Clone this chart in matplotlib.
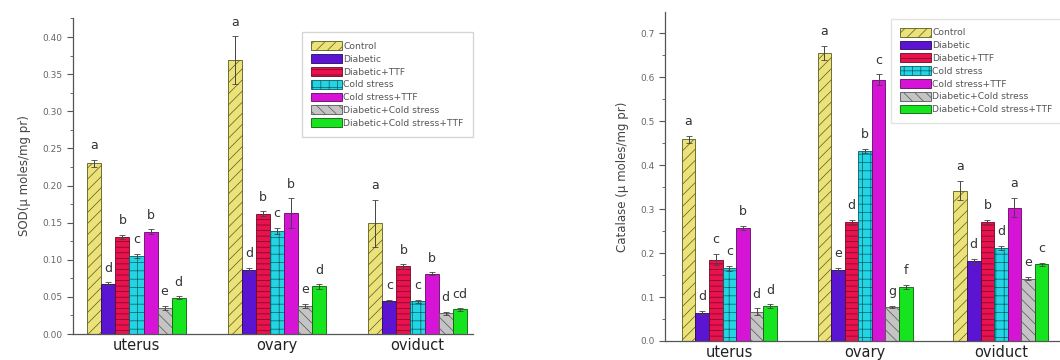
import numpy as np
import matplotlib
matplotlib.use("Agg")
from matplotlib import pyplot as plt
from matplotlib.patches import Patch
from matplotlib.ticker import MultipleLocator

# Dados
tecidos = ["uterus", "ovary", "oviduct"]
grupos = ["Control", "Diabetic", "Diabetic+TTF", "Cold stress",
          "Cold stress+TTF", "Diabetic+Cold stress", "Diabetic+Cold stress+TTF"]

sod_uterus = [0.230, 0.068, 0.131, 0.105, 0.138, 0.035, 0.049]
sod_ovary = [0.369, 0.086, 0.162, 0.139, 0.163, 0.038, 0.064]
sod_oviduct = [0.149, 0.044, 0.091, 0.044, 0.081, 0.028, 0.033]
sod_err_uterus = [0.005, 0.002, 0.003, 0.003, 0.003, 0.003, 0.002]
sod_err_ovary = [0.032, 0.003, 0.003, 0.004, 0.020, 0.003, 0.003]
sod_err_oviduct = [0.032, 0.002, 0.003, 0.002, 0.002, 0.002, 0.002]
sod_letras = [["a", "d", "b", "c", "b", "e", "d"],
              ["a", "d", "b", "c", "b", "e", "d"],
              ["a", "c", "b", "c", "b", "d", "cd"]]

cat_uterus = [0.459, 0.064, 0.185, 0.165, 0.257, 0.066, 0.079]
cat_ovary = [0.655, 0.161, 0.271, 0.432, 0.594, 0.077, 0.123]
cat_oviduct = [0.342, 0.181, 0.271, 0.212, 0.303, 0.142, 0.174]
cat_err_uterus = [0.008, 0.004, 0.012, 0.005, 0.005, 0.008, 0.004]
cat_err_ovary = [0.015, 0.005, 0.005, 0.005, 0.012, 0.003, 0.005]
cat_err_oviduct = [0.022, 0.005, 0.005, 0.005, 0.022, 0.003, 0.004]
cat_letras = [["a", "d", "c", "c", "b", "d", "d"],
              ["a", "e", "d", "b", "c", "g", "f"],
              ["a", "d", "b", "d", "a", "e", "c"]]

# Estilo das barras
cores = ["#ece27a", "#5a14d2", "#e8124e", "#22d4e4", "#d614d6", "#c4c4c4", "#16e41e"]
bordas = ["#5a5a20", "#2a0a60", "#6a0a24", "#0a5a60", "#600a60", "#555555", "#0a600a"]
hachuras = ["///", "", "---", "++", "", "\\\\\\", ""]

plt.rcParams["hatch.linewidth"] = 0.5
plt.rcParams["font.family"] = "DejaVu Sans"

fig = plt.figure(figsize=(10.6, 3.6), dpi=100)
W, H = 1060, 360
ax1 = fig.add_axes([73 / W, (H - 334) / H, 400 / W, 316 / H])
ax2 = fig.add_axes([665 / W, (H - 341) / H, 397 / W, 329 / H])

largura = 0.1
x = np.arange(len(tecidos))


def desenha(ax, valores, erros, letras, offset):
    for j in range(len(grupos)):
        pos = x + (j - 3) * largura
        alturas = [valores[k][j] for k in range(3)]
        errs = [erros[k][j] for k in range(3)]
        ax.bar(pos, alturas, largura, color=cores[j], edgecolor=bordas[j],
               hatch=hachuras[j], linewidth=0.6)
        ax.errorbar(pos, alturas, yerr=errs, fmt="none", ecolor="#444444",
                    elinewidth=0.7, capsize=2, capthick=0.6)
        for k in range(3):
            ax.text(pos[k], alturas[k] + errs[k] + offset, letras[k][j],
                    ha="center", va="bottom", fontsize=9, color="#333333")
    ax.set_xticks(x)
    ax.set_xticklabels(tecidos, fontsize=10.5, color="#222222")
    ax.tick_params(axis="x", length=0, pad=3)
    ax.tick_params(axis="y", direction="out", labelsize=6.5, labelcolor="#666666",
                   length=4, width=0.8, color="#555555")
    ax.tick_params(axis="y", which="minor", direction="out", length=2, width=0.6,
                   color="#555555")
    for s in ["top", "right"]:
        ax.spines[s].set_visible(False)
    for s in ["left", "bottom"]:
        ax.spines[s].set_color("#555555")
        ax.spines[s].set_linewidth(0.9)
    handles = [Patch(facecolor=cores[j], edgecolor=bordas[j], hatch=hachuras[j],
                     linewidth=0.6, label=grupos[j]) for j in range(len(grupos))]
    return handles


def legenda(ax, handles, anchor):
    leg = ax.legend(handles=handles, loc="upper right", bbox_to_anchor=anchor,
                    fontsize=6.6, frameon=True, handlelength=3.4, handleheight=1.1,
                    handletextpad=0.15, labelspacing=0.36, borderpad=1.0,
                    fancybox=False, borderaxespad=0)
    leg.get_frame().set_edgecolor("#dddddd")
    for t in leg.get_texts():
        t.set_color("#555555")
    return leg


h = desenha(ax1, [sod_uterus, sod_ovary, sod_oviduct],
            [sod_err_uterus, sod_err_ovary, sod_err_oviduct], sod_letras, 0.010)
ax1.set_xlim(-0.452, 2.395)
ax1.set_ylim(0, 0.4256)
ax1.yaxis.set_major_locator(MultipleLocator(0.05))
ax1.yaxis.set_minor_locator(MultipleLocator(0.025))
ax1.yaxis.set_major_formatter(matplotlib.ticker.FormatStrFormatter("%.2f"))
ax1.set_ylabel("SOD(\u00b5 moles/mg pr)", fontsize=8.5, color="#444444", labelpad=8)
leg1 = legenda(ax1, h, (1.0, 0.955))
leg1.get_frame().set_edgecolor("#cccccc")

h = desenha(ax2, [cat_uterus, cat_ovary, cat_oviduct],
            [cat_err_uterus, cat_err_ovary, cat_err_oviduct], cat_letras, 0.018)
ax2.set_xlim(-0.474, 2.45)
ax2.set_ylim(0, 0.748)
ax2.yaxis.set_major_locator(MultipleLocator(0.1))
ax2.yaxis.set_minor_locator(MultipleLocator(0.05))
ax2.yaxis.set_major_formatter(matplotlib.ticker.FormatStrFormatter("%.1f"))
ax2.set_ylabel("Catalase (\u00b5 moles/mg pr)", fontsize=8.5, color="#444444", labelpad=8)
legenda(ax2, h, (1.0, 0.98))

fig.savefig("out.png", dpi=100)
